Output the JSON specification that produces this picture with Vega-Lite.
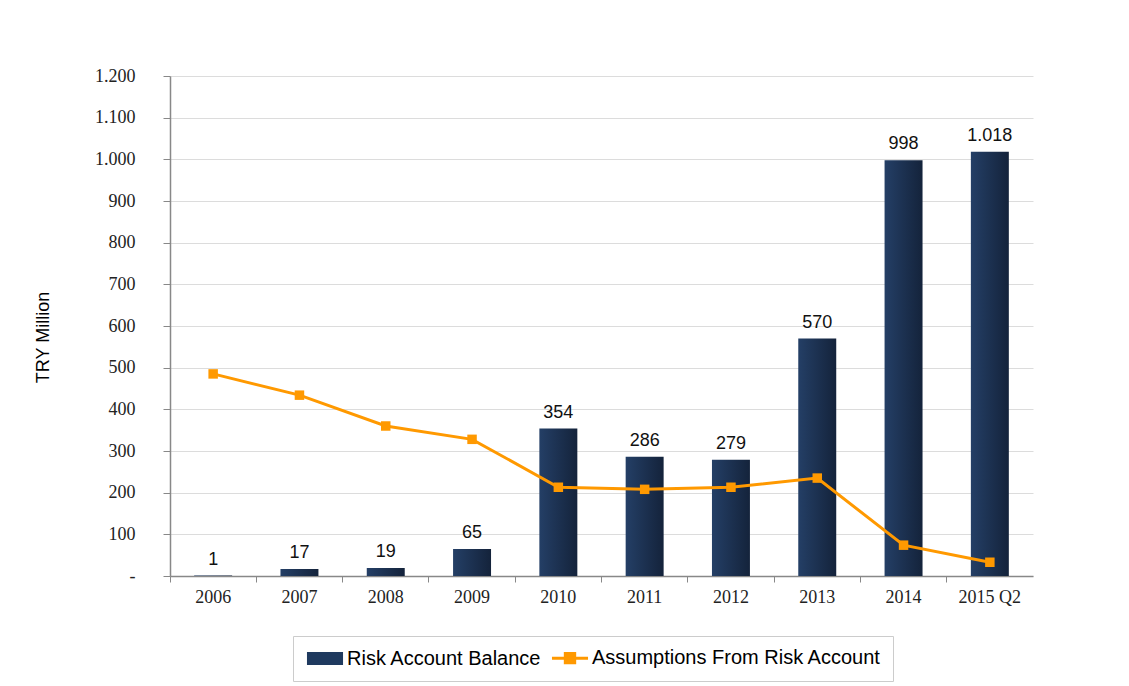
{
  "$schema": "https://vega.github.io/schema/vega-lite/v6.json",
  "autosize": {"type": "none"},
  "padding": {"left": 170, "top": 76, "right": 96, "bottom": 110},
  "width": 863,
  "height": 500,
  "background": "white",
  "config": {
    "view": {"stroke": null},
    "locale": {"number": {"decimal": ",", "thousands": ".", "grouping": [3], "currency": ["", ""]}},
    "axis": {"domainColor": "#888888", "tickColor": "#888888", "labelColor": "#222222", "titleColor": "#000000"}
  },
  "data": {
    "values": [
      {"period": "2006", "balance": 1, "assumption": 485},
      {"period": "2007", "balance": 17, "assumption": 434},
      {"period": "2008", "balance": 19, "assumption": 360},
      {"period": "2009", "balance": 65, "assumption": 328},
      {"period": "2010", "balance": 354, "assumption": 213},
      {"period": "2011", "balance": 286, "assumption": 208},
      {"period": "2012", "balance": 279, "assumption": 213},
      {"period": "2013", "balance": 570, "assumption": 235},
      {"period": "2014", "balance": 998, "assumption": 74},
      {"period": "2015 Q2", "balance": 1018, "assumption": 33}
    ]
  },
  "encoding": {
    "x": {
      "field": "period", "type": "nominal", "sort": null,
      "scale": {"paddingInner": 0, "paddingOuter": 0},
      "axis": {
        "title": null, "labelAngle": 0, "bandPosition": 0,
        "labelFont": "Liberation Serif", "labelFontSize": 18, "labelPadding": 6,
        "tickSize": 6, "domainWidth": 1.5, "grid": false
      }
    }
  },
  "layer": [
    {
      "mark": {
        "type": "bar",
        "width": {"band": 0.44},
        "color": {"gradient": "linear", "x1": 0, "x2": 1, "y1": 0, "y2": 0,
          "stops": [{"offset": 0, "color": "#243f66"}, {"offset": 1, "color": "#14233b"}]}
      },
      "encoding": {
        "y": {
          "field": "balance", "type": "quantitative",
          "scale": {"domain": [0, 1200], "nice": false},
          "axis": {
            "title": "TRY Million", "titleFont": "Liberation Sans", "titleFontSize": 18, "titleFontWeight": "normal",
            "titlePadding": 42, "titleY": 261,
            "values": [0, 100, 200, 300, 400, 500, 600, 700, 800, 900, 1000, 1100, 1200],
            "format": ",d",
            "labelExpr": "datum.value === 0 ? '-' : datum.label",
            "labelFont": "Liberation Serif", "labelFontSize": 18, "labelPadding": 28,
            "tickSize": 7, "domainWidth": 1.5,
            "grid": true, "gridColor": "#dcdcdc", "gridWidth": 1
          }
        }
      }
    },
    {
      "mark": {"type": "text", "baseline": "alphabetic", "dy": -11, "font": "Liberation Sans", "fontSize": 18, "color": "#111111"},
      "encoding": {
        "y": {"field": "balance", "type": "quantitative"},
        "text": {"field": "balance", "type": "quantitative", "format": ",d"}
      }
    },
    {
      "mark": {"type": "line", "strokeWidth": 3, "point": {"shape": "square", "size": 90, "filled": true, "opacity": 1}},
      "encoding": {
        "y": {"field": "assumption", "type": "quantitative"},
        "color": {
          "datum": "Assumptions From Risk Account",
          "scale": {"domain": ["Risk Account Balance", "Assumptions From Risk Account"], "range": ["#1f3a5f", "#ff9900"]},
          "legend": {
            "title": null, "orient": "none", "legendX": 123, "legendY": 560, "direction": "horizontal",
            "strokeColor": "#cccccc", "padding": 12,
            "labelFont": "Liberation Sans", "labelFontSize": 20, "labelColor": "#000000", "labelLimit": 0,
            "labelOffset": 12, "columnPadding": 3, "symbolOffset": 10,
            "symbolSize": 1300,
            "encode": {
              "symbols": {
                "update": {
                  "shape": {"signal": "datum.value === 'Risk Account Balance' ? 'M-1,-0.36H1V0.36H-1Z' : 'M-1,0H1M-0.26,-0.26H0.26V0.26H-0.26Z'"},
                  "fill": {"signal": "datum.value === 'Risk Account Balance' ? '#1f3a5f' : '#ff9900'"},
                  "stroke": {"signal": "datum.value === 'Risk Account Balance' ? '#1f3a5f' : '#ff9900'"},
                  "strokeWidth": {"signal": "datum.value === 'Risk Account Balance' ? 0 : 3"},
                  "opacity": {"value": 1}
                }
              }
            }
          }
        }
      }
    }
  ]
}
